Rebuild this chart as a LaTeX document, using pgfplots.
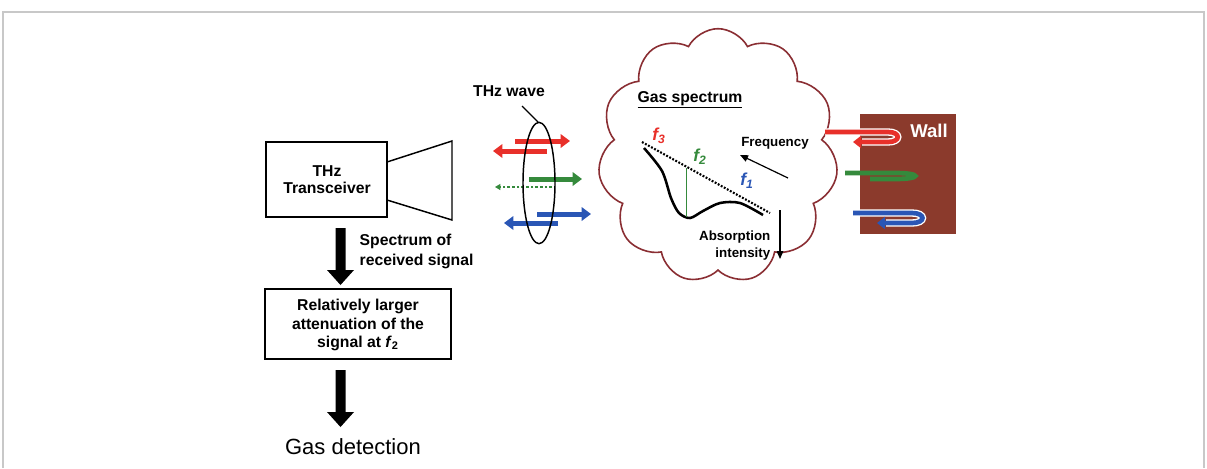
\documentclass[border=0pt]{standalone}
\usepackage{pgfplots}
\pgfplotsset{compat=1.18}
\usepackage{fontspec}
\setmainfont{Liberation Sans}
\usetikzlibrary{arrows.meta,shapes.symbols}
\definecolor{cred}{HTML}{E8302A}
\definecolor{cgreen}{HTML}{358A3C}
\definecolor{cblue}{HTML}{2A56B5}
\definecolor{cloudc}{HTML}{8A2E33}
\definecolor{wallc}{HTML}{8B3A2C}
\definecolor{framec}{HTML}{C8C8C8}
\newcommand{\fb}{\bfseries\fontsize{11.8}{13}\selectfont}
\begin{document}
\begin{tikzpicture}
\begin{axis}[width=905.25pt,height=351pt,scale only axis,hide axis,
  xmin=0,xmax=1207,ymin=0,ymax=468,y dir=reverse,clip=false]
\path (axis cs:0,0) rectangle (axis cs:1207,468);
% frame
\addplot[framec, line width=1.2pt] coordinates {(3,468) (3,12) (1204,12) (1204,468)};
% transceiver
\draw[line width=1.1pt] (axis cs:266,142) rectangle (axis cs:387,217);
\draw[line width=1.1pt] (axis cs:387,162) -- (axis cs:452,141) -- (axis cs:452,220) -- (axis cs:387,200);
\node[font=\bfseries\fontsize{11.8}{12.6}\selectfont,align=center] at (axis cs:327,180) {THz\\Transceiver};
% arrow 1
\fill (axis cs:335.5,228) -- (axis cs:345.5,228) -- (axis cs:345.5,270) -- (axis cs:354,270) -- (axis cs:340.5,285) -- (axis cs:327,270) -- (axis cs:335.5,270) -- cycle;
\node[font=\bfseries\fontsize{11.8}{15}\selectfont,align=left,anchor=west] at (axis cs:355,251) {Spectrum of\\received signal};
% box 2
\draw[line width=1.1pt] (axis cs:265,289) rectangle (axis cs:451,359);
\node[font=\bfseries\fontsize{11.8}{13.6}\selectfont,align=center] at (axis cs:358,325) {Relatively larger\\attenuation of the\\signal at \textit{f}\textsubscript{2}};
% arrow 2
\fill (axis cs:335.5,370) -- (axis cs:345.5,370) -- (axis cs:345.5,412) -- (axis cs:354,412) -- (axis cs:340.5,427) -- (axis cs:327,412) -- (axis cs:335.5,412) -- cycle;
\node[font=\fontsize{16.5}{18}\selectfont] at (axis cs:353,447) {Gas detection};
% THz wave
\node[font=\fb] at (axis cs:509,91) {THz wave};
\draw[line width=0.8pt] (axis cs:522,106) -- (axis cs:538,122);
\draw[cred, line width=3.75pt, -{Triangle[length=7pt,width=10pt]}] (axis cs:515,141) -- (axis cs:570,141);
\draw[cred, line width=3.75pt, -{Triangle[length=7pt,width=10pt]}] (axis cs:547,151) -- (axis cs:493,151);
\draw[cgreen, line width=3.75pt, -{Triangle[length=7pt,width=10pt]}] (axis cs:529,179) -- (axis cs:582,179);
\draw[cgreen, line width=0.8pt, dash pattern=on 2pt off 1.5pt, -{Triangle[length=4pt,width=4.5pt]}] (axis cs:552,187) -- (axis cs:495,187);
\draw[cblue, line width=3.75pt, -{Triangle[length=7pt,width=10pt]}] (axis cs:537,214) -- (axis cs:591,214);
\draw[cblue, line width=3.75pt, -{Triangle[length=7pt,width=10pt]}] (axis cs:558,223) -- (axis cs:504,223);
\draw[line width=1.1pt] (axis cs:539,183) ellipse [x radius=12pt, y radius=45.5pt];
% cloud
\node[cloud, cloud puffs=11, cloud puff arc=125, draw=cloudc, line width=1.2pt, minimum width=180pt, minimum height=191pt, aspect=1] at (axis cs:718,156) {};
\node[font=\fb] at (axis cs:690,100) {\underline{Gas spectrum}};
\addplot[black, line width=1.6pt, dash pattern=on 1.4pt off 1.2pt] coordinates {(642,142) (770,213)};
\addplot[black, line width=1.9pt, smooth] coordinates {(644,148) (662,171) (671,198) (679,213) (690,218) (703,211) (720,203) (740,203) (763,215)};
\addplot[cgreen, line width=0.6pt] coordinates {(686,168) (686,217)};
\node[cred, font=\bfseries\itshape\fontsize{13}{14}\selectfont] at (axis cs:659,136) {f\textsubscript{3}};
\node[cgreen, font=\bfseries\itshape\fontsize{13}{14}\selectfont] at (axis cs:700,157) {f\textsubscript{2}};
\node[cblue, font=\bfseries\itshape\fontsize{13}{14}\selectfont] at (axis cs:747,181) {f\textsubscript{1}};
\draw[line width=0.9pt, -{Triangle[length=6pt,width=5pt]}] (axis cs:788,178) -- (axis cs:740,155);
\node[font=\bfseries\fontsize{10}{11}\selectfont] at (axis cs:775,143) {Frequency};
\draw[line width=0.9pt, -{Triangle[length=6pt,width=5pt]}] (axis cs:780,210) -- (axis cs:780,259);
\node[font=\bfseries\fontsize{10}{12.8}\selectfont, align=right, anchor=east] at (axis cs:775,246) {Absorption\\intensity};
% wall
\fill[wallc] (axis cs:860,114) rectangle (axis cs:956,234);
\node[white, font=\bfseries\fontsize{13.9}{15}\selectfont] at (axis cs:929,131) {Wall};
\draw[white, line width=5.5pt] (axis cs:825,132) -- (axis cs:888,132) .. controls (axis cs:901,132) and (axis cs:901,142) .. (axis cs:888,142) -- (axis cs:862,142);
\draw[cred, line width=3.5pt, -{Triangle[length=6pt,width=9pt]}] (axis cs:825,132) -- (axis cs:888,132) .. controls (axis cs:901,132) and (axis cs:901,142) .. (axis cs:888,142) -- (axis cs:853,142);
\draw[cgreen, line width=3.5pt] (axis cs:845,173) -- (axis cs:895,173) .. controls (axis cs:922,173) and (axis cs:922,179) .. (axis cs:895,179) -- (axis cs:870,179);
\draw[white, line width=5.5pt] (axis cs:853,213) -- (axis cs:912,213) .. controls (axis cs:926,213) and (axis cs:926,223) .. (axis cs:912,223) -- (axis cs:886,223);
\draw[cblue, line width=3.5pt, -{Triangle[length=6pt,width=9pt]}] (axis cs:853,213) -- (axis cs:912,213) .. controls (axis cs:926,213) and (axis cs:926,223) .. (axis cs:912,223) -- (axis cs:877,223);
\end{axis}
\end{tikzpicture}
\end{document}
